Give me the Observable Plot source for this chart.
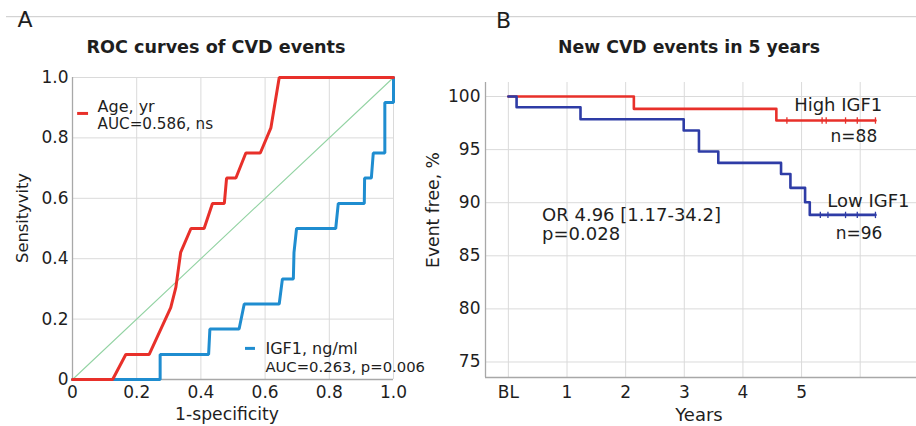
<!DOCTYPE html>
<html><head><meta charset="utf-8">
<script src="https://cdn.jsdelivr.net/npm/d3@7"></script>
<script src="https://cdn.jsdelivr.net/npm/@observablehq/plot@0.6"></script>
<style>
body{margin:0;background:#fff;}
#wrap{position:relative;width:916px;height:426px;overflow:hidden;background:#fff;}
#wrap svg{position:absolute;top:0;}
</style></head><body><div id="wrap"></div>
<script>
// ---------- Panel A: ROC curves ----------
const ageFpr = [0,0.125,0.166,0.239,0.306,0.322,0.337,0.369,0.41,0.436,0.473,0.48,0.509,0.54,0.585,0.618,0.644,1];
const ageTpr = [0,0,0.083,0.083,0.238,0.305,0.421,0.5,0.5,0.583,0.583,0.667,0.667,0.75,0.75,0.833,1,1];
const igfFpr = [0,0.273,0.273,0.424,0.428,0.519,0.535,0.644,0.654,0.688,0.69,0.698,0.82,0.828,0.909,0.91,0.931,0.937,0.973,0.973,1,1];
const igfTpr = [0,0,0.083,0.083,0.167,0.167,0.25,0.25,0.333,0.333,0.42,0.5,0.5,0.583,0.583,0.667,0.667,0.75,0.75,0.917,0.917,1];
const refDiag = [0,1];
const ticksA = [0,0.2,0.4,0.6,0.8,1.0];
const legendAge = ["Age, yr","AUC=0.586, ns"];
const legendIgf = ["IGF1, ng/ml","AUC=0.263, p=0.006"];

// ---------- Panel B: Kaplan-Meier ----------
const highTime = [0,2.14,4.57,6.26];
const highSurv = [100,98.84,97.74,97.74];
const lowTime = [0,0.14,1.23,2.99,3.25,3.58,4.65,4.81,5.06,5.14,6.26];
const lowSurv = [100,98.99,97.86,96.8,94.82,93.75,92.7,91.4,90.05,88.85,88.85];
const highCensor = [4.75,5.35,5.42,5.75,5.95,6.26];
const lowCensor = [5.32,5.45,5.75,5.95,6.26];
const xTicksB = [0,1,2,3,4,5];
const xTickLabelsB = ["BL","1","2","3","4","5"];
const xGridB = [0,1,2,3,4,5,6];
const yTicksB = [75,80,85,90,95,100];

const FONT = "DejaVu Sans";
const red = "#e8302a", blueA = "#1f8dd0", blueB = "#2e3ca6", green = "#93d3a3";
const gridC = "#dadada", axisC = "#a8a8a8", textC = "#1e1e1e";
const fmtA = d => d === 0 ? "0" : d.toFixed(1);

const ageData = ageFpr.map((x,i)=>({x, y: ageTpr[i]}));
const igfData = igfFpr.map((x,i)=>({x, y: igfTpr[i]}));
const diagData = refDiag.map(v=>({x:v, y:v}));

const pA = Plot.plot({
  width: 460, height: 426,
  marginLeft: 72, marginRight: 67, marginTop: 77, marginBottom: 47,
  style: {fontFamily: FONT, fontSize: "17px", color: textC, background: "transparent", overflow: "visible"},
  x: {domain: [0,1]},
  y: {domain: [0,1]},
  marks: [
    Plot.gridX(ticksA.slice(1), {stroke: gridC, strokeOpacity: 1}),
    Plot.gridY(ticksA.slice(1), {stroke: gridC, strokeOpacity: 1}),
    Plot.ruleX([0], {stroke: axisC, strokeWidth: 1.3}),
    Plot.ruleY([0], {stroke: axisC, strokeWidth: 1.3}),
    Plot.axisX(ticksA, {tickSize: 0, tickPadding: 6, tickFormat: fmtA, label: null, fill: textC}),
    Plot.axisY(ticksA, {tickSize: 0, tickPadding: 4, tickFormat: fmtA, label: null, fill: textC}),
    Plot.line(diagData, {x: "x", y: "y", stroke: green, strokeWidth: 1.1}),
    Plot.line(igfData, {x: "x", y: "y", stroke: blueA, strokeWidth: 3, strokeLinejoin: "miter"}),
    Plot.line(ageData, {x: "x", y: "y", stroke: red, strokeWidth: 3, strokeLinejoin: "miter"}),
    // legends
    Plot.ruleY([0.881], {x1: 0.016, x2: 0.05, stroke: red, strokeWidth: 3}),
    Plot.text([legendAge[0]], {x: 0.078, y: 0.885, text: d=>d, textAnchor: "start", lineAnchor: "bottom", fontSize: 16, fill: textC}),
    Plot.text([legendAge[1]], {x: 0.078, y: 0.830, text: d=>d, textAnchor: "start", lineAnchor: "bottom", fontSize: 15.2, fill: textC}),
    Plot.ruleY([0.103], {x1: 0.539, x2: 0.570, stroke: blueA, strokeWidth: 3}),
    Plot.text([legendIgf[0]], {x: 0.601, y: 0.085, text: d=>d, textAnchor: "start", lineAnchor: "bottom", fontSize: 16, fill: textC}),
    Plot.text([legendIgf[1]], {x: 0.601, y: 0.024, text: d=>d, textAnchor: "start", lineAnchor: "bottom", fontSize: 14.8, fill: textC})
  ]
});
pA.style.left = "0px";

const highData = highTime.map((t,i)=>({t, s: highSurv[i]}));
const lowData = lowTime.map((t,i)=>({t, s: lowSurv[i]}));
const highC = highCensor.map(t=>({t, s: highSurv[highSurv.length-1]}));
const lowC = lowCensor.map(t=>({t, s: lowSurv[lowSurv.length-1]}));
const vbar = {draw(ctx, size){ const h = Math.sqrt(size/Math.PI); ctx.moveTo(0,-h); ctx.lineTo(0,h); }};

const pB = Plot.plot({
  width: 516, height: 426,
  marginLeft: 85, marginRight: 0, marginTop: 82, marginBottom: 49,
  style: {fontFamily: FONT, fontSize: "17px", color: textC, background: "transparent", overflow: "visible"},
  x: {domain: [-0.39, 6.96]},
  y: {domain: [73.54, 101.32]},
  marks: [
    Plot.gridX(xGridB, {stroke: gridC, strokeOpacity: 1}),
    Plot.gridY(yTicksB, {stroke: gridC, strokeOpacity: 1}),
    Plot.ruleX([-0.39], {stroke: axisC, strokeWidth: 1.3}),
    Plot.ruleY([73.54], {stroke: axisC, strokeWidth: 1.3}),
    Plot.axisX(xTicksB, {tickSize: 0, tickPadding: 8, tickFormat: (d,i)=>xTickLabelsB[xTicksB.indexOf(d)], label: null, fill: textC}),
    Plot.axisY(yTicksB, {tickSize: 0, tickPadding: 5, label: null, fill: textC}),
    Plot.line(highData, {x: "t", y: "s", curve: "step-after", stroke: red, strokeWidth: 2.6}),
    Plot.line(lowData, {x: "t", y: "s", curve: "step-after", stroke: blueB, strokeWidth: 2.6}),
    Plot.dot(highC, {x: "t", y: "s", symbol: vbar, r: 3.2, stroke: red, strokeWidth: 1.3, fill: "none"}),
    Plot.dot(lowC, {x: "t", y: "s", symbol: vbar, r: 3.2, stroke: blueB, strokeWidth: 1.3, fill: "none"}),
    Plot.text(["High IGF1"], {x: 6.377, y: 98.68, text: d=>d, textAnchor: "end", lineAnchor: "bottom", fontSize: 18, fill: textC}),
    Plot.text(["n=88"], {x: 6.29, y: 95.7, text: d=>d, textAnchor: "end", lineAnchor: "bottom", fontSize: 17, fill: textC}),
    Plot.text(["Low IGF1"], {x: 6.84, y: 89.58, text: d=>d, textAnchor: "end", lineAnchor: "bottom", fontSize: 18, fill: textC}),
    Plot.text(["n=96"], {x: 6.377, y: 86.6, text: d=>d, textAnchor: "end", lineAnchor: "bottom", fontSize: 17, fill: textC}),
    Plot.text(["OR 4.96 [1.17-34.2]"], {x: 0.575, y: 88.32, text: d=>d, textAnchor: "start", lineAnchor: "bottom", fontSize: 18, fill: textC}),
    Plot.text(["p=0.028"], {x: 0.575, y: 86.45, text: d=>d, textAnchor: "start", lineAnchor: "bottom", fontSize: 18, fill: textC})
  ]
});
pB.style.left = "400px";

const wrap = document.getElementById("wrap");

// overlay: panel letters, titles, axis titles
const ov = d3.create("svg").attr("width", 916).attr("height", 426)
  .style("left","0px").style("font-family", FONT).style("fill", textC);
ov.append("line").attr("x1",6).attr("x2",916).attr("y1",16.7).attr("y2",16.7).attr("stroke","#c9c9c9").attr("stroke-width",1);
wrap.appendChild(ov.node());
wrap.appendChild(pA);
wrap.appendChild(pB);
const ov2 = d3.create("svg").attr("width", 916).attr("height", 426)
  .style("left","0px").style("font-family", FONT).attr("fill", textC).style("pointer-events","none");
const T = (x,y,s,opts={}) => {
  const t = ov2.append("text").attr("x",x).attr("y",y).text(s)
    .attr("font-size", opts.size||17).attr("text-anchor", opts.anchor||"start")
    .attr("font-weight", opts.bold ? "bold" : null);
  if (opts.rot) t.attr("transform", `rotate(-90,${x},${y})`);
  return t;
};
T(17.5, 26.5, "A", {size: 22});
T(496, 28, "B", {size: 22});
T(216, 53.3, "ROC curves of CVD events", {size: 17.6, bold: true, anchor: "middle"});
T(689, 53.3, "New CVD events in 5 years", {size: 17.3, bold: true, anchor: "middle"});
T(27.5, 218, "Sensityvity", {size: 16.3, anchor: "middle", rot: true});
T(439, 210, "Event free, %", {size: 17.2, anchor: "middle", rot: true});
T(227, 419.5, "1-specificity", {size: 17.2, anchor: "middle"});
T(699, 421, "Years", {size: 18, anchor: "middle"});
wrap.appendChild(ov2.node());
</script>
</body></html>
